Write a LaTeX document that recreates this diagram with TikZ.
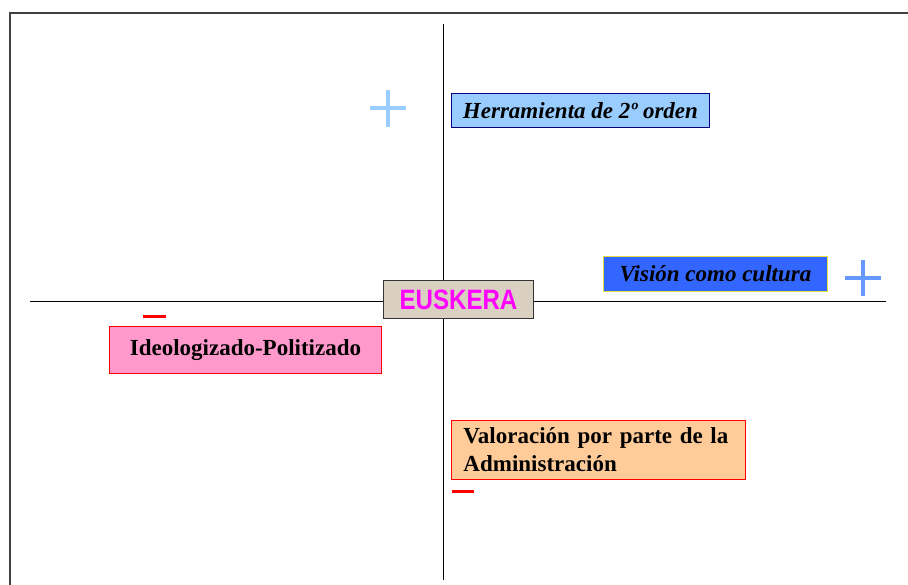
\documentclass[tikz,border=0pt]{standalone}
\usepackage{fontspec}
\setmainfont{Liberation Serif}
\newfontfamily\euskfont[FakeStretch=0.86]{Liberation Sans}
\usetikzlibrary{positioning}
\definecolor{herrBlue}{HTML}{99CCFF}
\definecolor{herrNavy}{HTML}{000080}
\definecolor{visBlue}{HTML}{3366FF}
\definecolor{visYellow}{HTML}{E0E040}
\definecolor{ideoPink}{HTML}{FF99CC}
\definecolor{valPeach}{HTML}{FFCC99}
\definecolor{euskBeige}{HTML}{D9D0C1}
\definecolor{euskMagenta}{HTML}{FF00FF}
\definecolor{pureRed}{HTML}{FF0000}
\definecolor{plusLight}{HTML}{99CCFF}
\definecolor{plusMid}{HTML}{6699FF}
\begin{document}
\begin{tikzpicture}[x=1pt, y=-1pt,
    lbl/.style={rectangle, anchor=north west, inner sep=0pt, line width=0.9pt,
                font=\fontsize{23}{28}\selectfont\bfseries},
    ctr/.style={rectangle, anchor=north west, inner sep=0pt, draw=black!80,
                fill=euskBeige, line width=1pt, minimum width=150, minimum height=38,
                font=\euskfont\fontsize{28}{30}\selectfont\color{euskMagenta}},
    axis/.style={black, line width=1pt},
    plussign/.style={line width=4.5pt},
    minussign/.style={pureRed, line width=3pt}
  ]
  \useasboundingbox (0,0) rectangle (908,585);
  % frame
  \draw[black!75, line width=2pt] (908,13) -- (10,13) -- (10,585);
  % axes
  \coordinate (vtop) at (443,24);
  \coordinate (vbot) at (443,580);
  \coordinate (hleft) at (30,302);
  \coordinate (hright) at (886,302);
  \draw[axis] (vtop) -- (vbot);
  \draw[axis] (hleft) -- (hright);
  \node[ctr] (eusk) at (383,280) {\textbf{EUSKERA}};
  % labels
  \node[lbl, draw=herrNavy, fill=herrBlue, minimum width=258, minimum height=34]
    (herr) at (451,93) {\itshape Herramienta de 2º orden};
  \node[lbl, draw=visYellow, fill=visBlue, minimum width=224, minimum height=35]
    (vis) at (603,256) {\itshape Visión como cultura};
  \node[lbl, draw=pureRed, fill=ideoPink, minimum width=272, minimum height=47]
    (ideo) at (109,326) {Ideologizado-Politizado};
  \node[lbl, draw=pureRed, fill=valPeach, minimum width=294, minimum height=59,
        text width=270, inner xsep=12, align=left]
    (val) at (451,420) {Valoración por parte de la\\Administración};
  % signs
  \draw[plussign, plusLight] (370,108) -- (406,108) (388,90) -- (388,127);
  \draw[plussign, plusMid] (845,278) -- (881,278) (863,260) -- (863,296);
  \draw[minussign] (143,317) -- (166,317);
  \draw[minussign] (452,491) -- (474,491);
\end{tikzpicture}
\end{document}
